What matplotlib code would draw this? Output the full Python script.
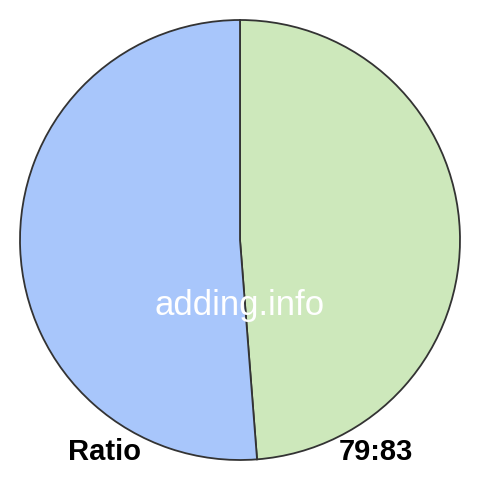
import matplotlib.pyplot as plt

labels = ['79', '83']
values = [79, 83]
colors = ['#cde8bb', '#a8c6fb']
ratio_text = '79:83'


def main():
    plt.rcParams['font.family'] = ['Liberation Sans', 'DejaVu Sans']
    fig = plt.figure(figsize=(4.8, 4.8), dpi=100)
    ax = fig.add_axes([0, 0, 1, 1])

    ax.pie(values, colors=colors, startangle=90, counterclock=False,
           radius=1.0,
           wedgeprops={'edgecolor': '#333333', 'linewidth': 1.3})

    lim = 240 / 220
    ax.set_xlim(-lim, lim)
    ax.set_ylim(-lim, lim)
    ax.set_aspect('equal')
    ax.axis('off')

    # pixel -> data helper
    def px(x, y):
        return (x - 240) / 220, (240 - y) / 220

    ax.text(*px(240, 306), 'adding.info', color='white', fontsize=25,
            ha='center', va='center')
    ax.text(*px(68, 452), 'Ratio', color='black', fontsize=21,
            fontweight='bold', ha='left', va='center')
    ax.text(*px(413, 452), ratio_text, color='black', fontsize=21,
            fontweight='bold', ha='right', va='center')

    fig.savefig('out.png', dpi=100)


if __name__ == '__main__':
    main()
